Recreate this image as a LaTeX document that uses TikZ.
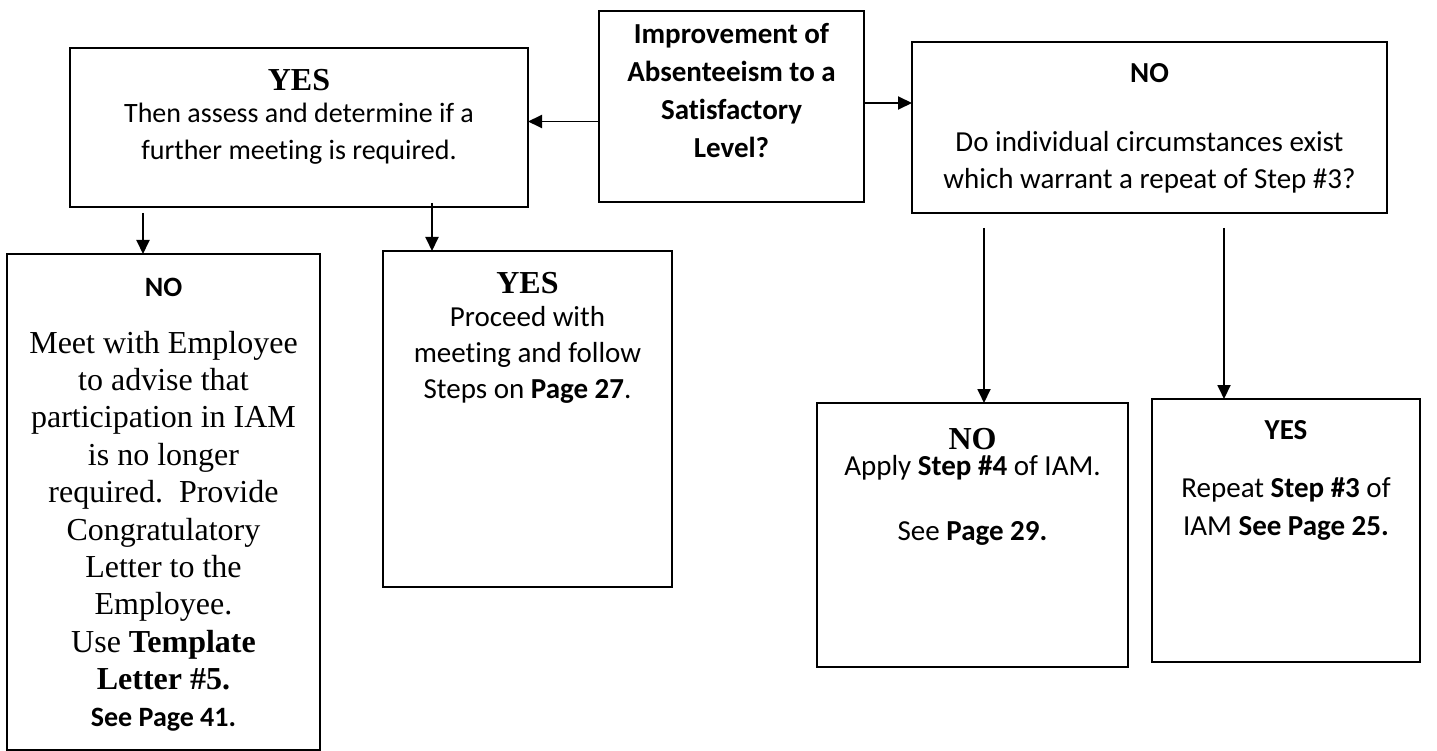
\documentclass[tikz,border=0pt]{standalone}
\usepackage{fontspec}
\setmainfont{Liberation Serif}
\newfontfamily\calib[Ligatures=NoCommon]{Carlito}
\usetikzlibrary{arrows.meta}

% box text: width, height, gap above first line, content
\newcommand\boxtext[4]{\parbox[c][#2][t]{#1}{\lineskiplimit=-60pt\centering\vspace*{#3}\rule{0pt}{30pt}#4\par}}

\tikzset{
  flowbox/.style={draw=black, line width=2.2pt, inner sep=0pt, outer sep=0pt, anchor=north west, fill=white},
  flowarrow/.style={draw=black, line width=1.9pt, -{Triangle[length=14pt,width=13pt]}}
}

\begin{document}
\begin{tikzpicture}[x=1pt, y=-1pt]
\useasboundingbox (0,0) rectangle (1437,751);
\fill[white] (0,0) rectangle (1437,751);

% decision
\node[flowbox] (imp) at (599,11) {\boxtext{265pt}{191pt}{3pt}{\calib\bfseries\fontsize{29}{38}\selectfont
  Improvement of\\ Absenteeism to a\\ Satisfactory\\ Level?}};

% YES branch
\node[flowbox] (yesL) at (70,48) {\boxtext{458pt}{159pt}{13pt}{\fontsize{28}{32}\selectfont
  {\bfseries\fontsize{32}{32}\selectfont YES}\\
  \calib Then assess and determine if a\\[5pt]
  further meeting is required.}};

% NO branch
\node[flowbox] (noR) at (912,42) {\boxtext{475pt}{171pt}{11pt}{\calib\fontsize{29}{37}\selectfont
  \textbf{NO}\\[32pt]
  Do individual circumstances exist\\
  which warrant a repeat of Step \#3?}};

% outcomes of the YES branch
\node[flowbox] (noL) at (7,254) {\boxtext{313pt}{496pt}{12pt}{\fontsize{32}{37.4}\selectfont
  {\calib\bfseries\fontsize{28}{34}\selectfont NO}\\[19.6pt]
  Meet with Employee\\
  to advise that\\
  participation in IAM\\
  is no longer\\
  required.\ \ Provide\\
  Congratulatory\\
  Letter to the\\
  Employee.\\
  Use \textbf{Template}\\
  \textbf{Letter \#5.}\\[-0.4pt]
  {\calib\bfseries\fontsize{28}{34}\selectfont See Page 41.}}};

\node[flowbox] (yesM) at (383,251) {\boxtext{289pt}{336pt}{12pt}{\calib\fontsize{29}{36}\selectfont
  {\rmfamily\bfseries\fontsize{32}{36}\selectfont YES}\\[-3pt]
  Proceed with\\
  meeting and follow\\
  Steps on \textbf{Page 27}.}};

% outcomes of the NO branch
\node[flowbox] (noM) at (817,403) {\boxtext{311pt}{264pt}{16pt}{\calib\fontsize{29}{37}\selectfont
  {\rmfamily\bfseries\fontsize{32}{37}\selectfont NO}\\[-11pt]
  Apply \textbf{Step \#4} of IAM.\\[28pt]
  See \textbf{Page 29.}}};

\node[flowbox] (yesR) at (1152,399) {\boxtext{268pt}{263pt}{10pt}{\calib\fontsize{29}{38}\selectfont
  \textbf{YES}\\[20pt]
  Repeat \textbf{Step \#3} of\\
  IAM \textbf{See Page 25.}}};

% connectors
\draw[flowarrow] ([yshift=-15pt]imp.west) -- ([yshift=-15pt]imp.west -| yesL.east);
\draw[flowarrow] ([yshift=3.5pt]imp.east) -- ([yshift=3.5pt]imp.east -| noR.west);
\draw[flowarrow] ([xshift=-156pt,yshift=-6pt]yesL.south) -- ([xshift=-156pt]yesL.south |- noL.north);
\draw[flowarrow] ([xshift=133pt,yshift=4pt]yesL.south) -- ([xshift=133pt]yesL.south |- yesM.north);
\draw[flowarrow] ([xshift=-165.5pt,yshift=-15pt]noR.south) -- ([xshift=-165.5pt]noR.south |- noM.north);
\draw[flowarrow] ([xshift=74.5pt,yshift=-15pt]noR.south) -- ([xshift=74.5pt]noR.south |- yesR.north);
\end{tikzpicture}
\end{document}
